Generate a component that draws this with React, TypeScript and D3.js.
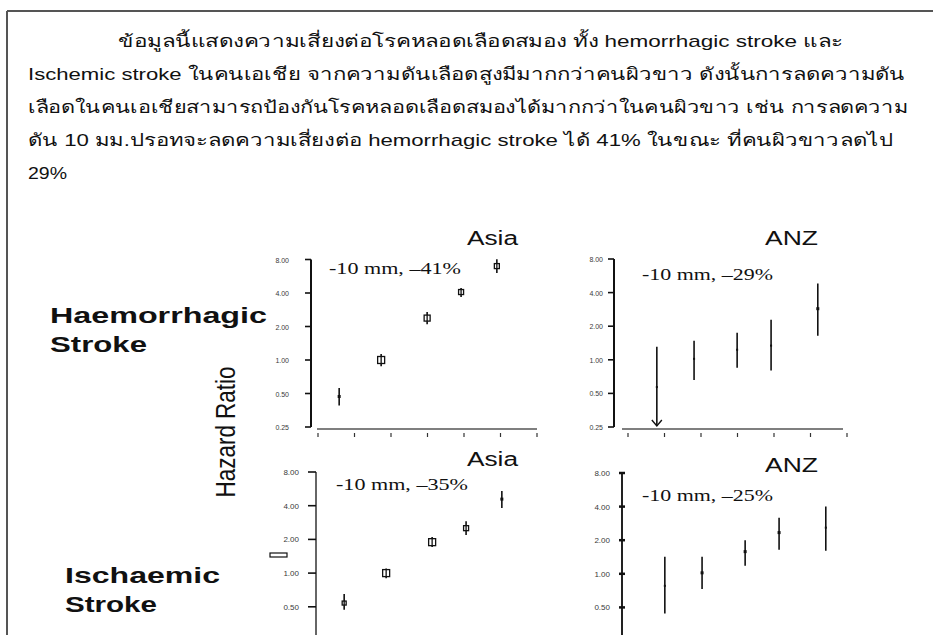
import React from "react";
import * as d3 from "d3";

// Paragraph lines (Thai summary text)
const paragraphLines = [
  "ข้อมูลนี้แสดงความเสี่ยงต่อโรคหลอดเลือดสมอง ทั้ง hemorrhagic stroke และ",
  "Ischemic stroke ในคนเอเชีย จากความดันเลือดสูงมีมากกว่าคนผิวขาว ดังนั้นการลดความดัน",
  "เลือดในคนเอเชียสามารถป้องกันโรคหลอดเลือดสมองได้มากกว่าในคนผิวขาว เช่น การลดความ",
  "ดัน 10 มม.ปรอทจะลดความเสี่ยงต่อ hemorrhagic stroke ได้ 41% ในขณะ ที่คนผิวขาวลดไป",
  "29%",
];

// Hazard-ratio axis ticks (log2 scale)
const hrTicks = [0.25, 0.5, 1, 2, 4, 8];
// Systolic BP axis ticks (unlabelled)
const sbpTicks = [100, 110, 120, 130, 140, 150, 160];

// Mean systolic BP of each fifth
const sbpAsia = [105.8, 117.3, 129.9, 139.2, 149.0];
const sbpANZ = [107.9, 118.1, 129.9, 139.2, 152.0];

// Haemorrhagic stroke, Asia
const haemAsiaHR = [0.47, 1.0, 2.38, 4.08, 6.98];
const haemAsiaLo = [0.39, 0.88, 2.1, 3.68, 6.06];
const haemAsiaHi = [0.56, 1.13, 2.7, 4.44, 8.06];
const haemAsiaW = [3, 7, 6, 5, 5];

// Haemorrhagic stroke, ANZ (first lower bound runs off the axis)
const haemANZHR = [0.57, 1.02, 1.23, 1.34, 2.87];
const haemANZLo = [0.25, 0.66, 0.85, 0.8, 1.64];
const haemANZHi = [1.31, 1.48, 1.75, 2.29, 4.82];
const haemANZW = [2, 2, 2, 2, 3];

// Ischaemic stroke, Asia
const ischAsiaHR = [0.54, 1.0, 1.89, 2.52, 4.58];
const ischAsiaLo = [0.47, 0.9, 1.71, 2.19, 3.81];
const ischAsiaHi = [0.65, 1.1, 2.1, 2.91, 5.4];
const ischAsiaW = [4, 7, 7, 5, 3];

// Ischaemic stroke, ANZ
const ischANZHR = [0.78, 1.02, 1.58, 2.34, 2.59];
const ischANZLo = [0.44, 0.73, 1.18, 1.64, 1.61];
const ischANZHi = [1.42, 1.42, 2.0, 3.18, 4.0];
const ischANZW = [2, 3, 3, 3, 2];

type PanelProps = {
  title: string;
  effect: string;
  axisX: number;
  y8: number;
  y025: number;
  xRange: [number, number];
  xLine?: [number, number];
  sbp: number[];
  hr: number[];
  lo: number[];
  hi: number[];
  w: number[];
  titleBox: [number, number, number]; // left, right, baseline
  effectBox: [number, number, number];
  labelRight: number;
  labelSize: number;
  tickLen: number;
  crossTicks?: boolean;
  axisColor: string;
  arrowFirst?: boolean;
};

function Panel(p: PanelProps) {
  const y = d3.scaleLog().base(2).domain([0.25, 8]).range([p.y025, p.y8]);
  const x = d3.scaleLinear().domain([100, 160]).range(p.xRange);
  const bottom = Math.min(p.y025, 635);
  const xAxisY = p.y025 + 2;
  return (
    <g>
      <text
        x={p.titleBox[0]}
        y={p.titleBox[2]}
        textLength={p.titleBox[1] - p.titleBox[0]}
        lengthAdjust="spacingAndGlyphs"
        fontFamily="Liberation Sans, Arial, sans-serif"
        fontSize={20}
        fill="#111"
      >
        {p.title}
      </text>
      <text
        x={p.effectBox[0]}
        y={p.effectBox[2]}
        textLength={p.effectBox[1] - p.effectBox[0]}
        lengthAdjust="spacingAndGlyphs"
        fontFamily="Liberation Serif, Times New Roman, serif"
        fontSize={17}
        fill="#111"
      >
        {p.effect}
      </text>
      {/* y axis */}
      <line
        x1={p.axisX}
        x2={p.axisX}
        y1={p.y8}
        y2={bottom}
        stroke={p.axisColor}
        strokeWidth={2}
      />
      {hrTicks.map((t) =>
        y(t) <= 634 ? (
          <g key={t}>
            <line
              x1={p.crossTicks ? p.axisX - 3 : p.axisX - p.tickLen}
              x2={p.crossTicks ? p.axisX + 3 : p.axisX}
              y1={y(t)}
              y2={y(t)}
              stroke="#111"
              strokeWidth={p.crossTicks ? 2.5 : 1.6}
            />
            <text
              x={p.labelRight}
              y={y(t) + 3}
              textAnchor="end"
              fontFamily="Liberation Sans, Arial, sans-serif"
              fontSize={p.labelSize}
              fill="#3a3a3a"
            >
              {d3.format(".2f")(t)}
            </text>
          </g>
        ) : null
      )}
      {/* x axis */}
      {p.xLine && (
        <g>
          <line
            x1={p.xLine[0]}
            x2={p.xLine[1]}
            y1={xAxisY}
            y2={xAxisY}
            stroke="#555"
            strokeWidth={1.5}
          />
          {sbpTicks.map((t) => (
            <line
              key={t}
              x1={x(t)}
              x2={x(t)}
              y1={xAxisY + 4}
              y2={xAxisY + 8}
              stroke="#333"
              strokeWidth={1.2}
            />
          ))}
        </g>
      )}
      {/* hazard ratios with confidence intervals */}
      {p.hr.map((h, i) => {
        const cx = x(p.sbp[i]);
        const cy = y(h);
        const s = p.w[i];
        const isArrow = p.arrowFirst && i === 0;
        return (
          <g key={i}>
            <line
              x1={cx}
              x2={cx}
              y1={y(p.hi[i])}
              y2={isArrow ? y(p.lo[i]) - 1 : y(p.lo[i])}
              stroke="#111"
              strokeWidth={1.6}
            />
            {isArrow && (
              <path
                d={`M${cx - 5},${y(p.lo[i]) - 7} L${cx},${y(p.lo[i]) - 1} L${cx + 5},${y(p.lo[i]) - 7}`}
                fill="none"
                stroke="#111"
                strokeWidth={1.4}
              />
            )}
            {s >= 4 ? (
              <rect
                x={cx - s / 2}
                y={cy - s / 2}
                width={s}
                height={s}
                fill="#fff"
                stroke="#111"
                strokeWidth={1.3}
              />
            ) : (
              <rect x={cx - s / 2} y={cy - s / 2} width={s} height={s} fill="#111" />
            )}
            {s >= 4 && (
              <line x1={cx} x2={cx} y1={cy - s / 2} y2={cy + s / 2} stroke="#111" strokeWidth={1.3} />
            )}
          </g>
        );
      })}
    </g>
  );
}

export default function App() {
  const W = 933;
  const H = 635;
  const para = [
    { x: 118, x2: 843, y: 47 },
    { x: 28, x2: 905, y: 80 },
    { x: 28, x2: 908, y: 113 },
    { x: 28, x2: 893, y: 146 },
    { x: 28, x2: 67, y: 179 },
  ];
  return (
    <svg
      width={W}
      height={H}
      viewBox={`0 0 ${W} ${H}`}
      style={{ position: "absolute", left: 0, top: 0, background: "#fff" }}
    >
      <rect width={W} height={H} fill="#fff" />
      {/* frame */}
      <line x1={7} x2={7} y1={11} y2={H} stroke="#555" strokeWidth={2} />
      <line x1={7} x2={W} y1={11} y2={11} stroke="#555" strokeWidth={2} />
      {paragraphLines.map((t, i) => (
        <text
          key={i}
          x={para[i].x}
          y={para[i].y}
          textLength={para[i].x2 - para[i].x}
          lengthAdjust="spacingAndGlyphs"
          fontFamily="Liberation Sans, Arial, 'Noto Sans', sans-serif"
          fontSize={17}
          fill="#111"
        >
          {t}
        </text>
      ))}
      {/* row labels */}
      <g fontFamily="Liberation Sans, Arial, sans-serif" fontWeight="bold" fontSize={22} fill="#111">
        <text x={50} y={323} textLength={217} lengthAdjust="spacingAndGlyphs">Haemorrhagic</text>
        <text x={50} y={352} textLength={97} lengthAdjust="spacingAndGlyphs">Stroke</text>
        <text x={65} y={583} textLength={155} lengthAdjust="spacingAndGlyphs">Ischaemic</text>
        <text x={65} y={612} textLength={92} lengthAdjust="spacingAndGlyphs">Stroke</text>
      </g>
      <text
        transform="translate(235,432) rotate(-90) scale(1,1.3)"
        textAnchor="middle"
        fontFamily="Liberation Sans, Arial, sans-serif"
        fontSize={21}
        fill="#111"
        textLength={131}
        lengthAdjust="spacingAndGlyphs"
      >
        Hazard Ratio
      </text>
      <rect x={270} y={553} width={17} height={4} fill="#fff" stroke="#111" strokeWidth={1.2} />

      <Panel
        title="Asia"
        effect="-10 mm, –41%"
        axisX={311}
        y8={259.5}
        y025={427}
        xRange={[318, 537]}
        xLine={[317, 537]}
        sbp={sbpAsia}
        hr={haemAsiaHR}
        lo={haemAsiaLo}
        hi={haemAsiaHi}
        w={haemAsiaW}
        titleBox={[467, 518, 245]}
        effectBox={[329, 461, 274]}
        labelRight={289}
        labelSize={7}
        tickLen={6}
        axisColor="#111"
      />
      <Panel
        title="ANZ"
        effect="-10 mm, –29%"
        axisX={614}
        y8={259}
        y025={427}
        xRange={[628, 847]}
        xLine={[622, 843]}
        sbp={sbpANZ}
        hr={haemANZHR}
        lo={haemANZLo}
        hi={haemANZHi}
        w={haemANZW}
        titleBox={[765, 818, 245]}
        effectBox={[642, 773, 280]}
        labelRight={603}
        labelSize={7}
        tickLen={6}
        axisColor="#111"
        arrowFirst
      />
      <Panel
        title="Asia"
        effect="-10 mm, –35%"
        axisX={316}
        y8={472}
        y025={640.5}
        xRange={[323, 542]}
        sbp={sbpAsia}
        hr={ischAsiaHR}
        lo={ischAsiaLo}
        hi={ischAsiaHi}
        w={ischAsiaW}
        titleBox={[467, 518, 466]}
        effectBox={[336, 468, 490]}
        labelRight={299}
        labelSize={8}
        tickLen={8}
        axisColor="#666"
      />
      <Panel
        title="ANZ"
        effect="-10 mm, –25%"
        axisX={622}
        y8={473}
        y025={641}
        xRange={[636, 855]}
        sbp={sbpANZ}
        hr={ischANZHR}
        lo={ischANZLo}
        hi={ischANZHi}
        w={ischANZW}
        titleBox={[765, 818, 472]}
        effectBox={[642, 773, 501]}
        labelRight={610}
        labelSize={8}
        tickLen={6}
        crossTicks
        axisColor="#222"
      />
    </svg>
  );
}
